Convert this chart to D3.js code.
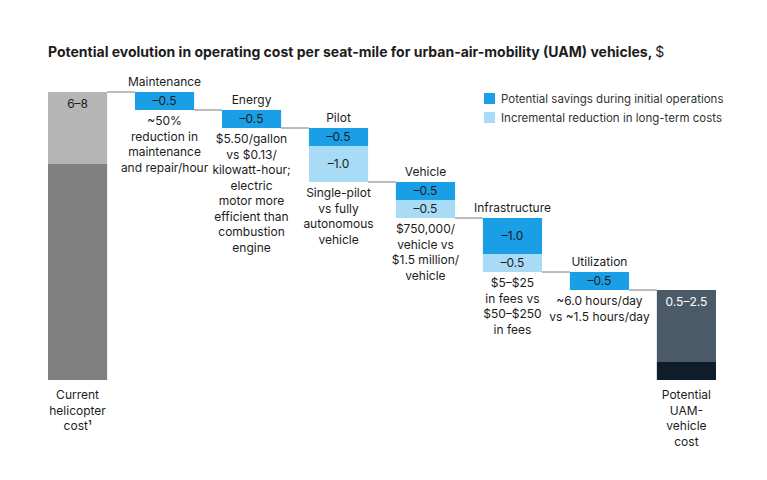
<!DOCTYPE html>
<html>
<head>
<meta charset="utf-8">
<script src="https://cdn.jsdelivr.net/npm/d3@7"></script>
<style>
  body { margin: 0; background: #fff; font-family: Inter, "Noto Sans", sans-serif; }
  text { fill: #1c1c1c; }
</style>
</head>
<body>
<svg id="chart" width="767" height="480"></svg>
<script>
// Data
const steps = ["Maintenance", "Energy", "Pilot", "Vehicle", "Infrastructure", "Utilization"];
const initialSavings = [0.5, 0.5, 0.5, 0.5, 1.0, 0.5];
const longTermSavings = [0, 0, 1.0, 0.5, 0.5, 0];
const startRange = [6, 8];
const endRange = [0.5, 2.5];
const notes = [
  ["~50%", "reduction in", "maintenance", "and repair/hour"],
  ["$5.50/gallon", "vs $0.13/", "kilowatt-hour;", "electric", "motor more", "efficient than", "combustion", "engine"],
  ["Single-pilot", "vs fully", "autonomous", "vehicle"],
  ["$750,000/", "vehicle vs", "$1.5 million/", "vehicle"],
  ["$5–$25", "in fees vs", "$50–$250", "in fees"],
  ["~6.0 hours/day", "vs ~1.5 hours/day"]
];

const svg = d3.select("#chart");
const blue = "#1a9fe6", lightBlue = "#a8dcf6";

const x = d3.scaleBand()
  .domain(["start", ...steps, "end"])
  .range([48, 716])
  .paddingInner(0.32).paddingOuter(0);
const y = d3.scaleLinear().domain([0, 8]).range([380, 92]);
const w = x.bandwidth();

svg.append("text").attr("x", 48).attr("y", 57)
  .attr("font-size", 14).attr("font-weight", 700)
  .text("Potential evolution in operating cost per seat-mile for urban-air-mobility (UAM) vehicles, ")
  .append("tspan").attr("font-weight", 400).text("$");

// start bar
svg.append("rect").attr("x", x("start")).attr("width", w)
  .attr("y", y(startRange[0])).attr("height", y(0) - y(startRange[0])).attr("fill", "#808080");
svg.append("rect").attr("x", x("start")).attr("width", w)
  .attr("y", y(startRange[1])).attr("height", y(startRange[0]) - y(startRange[1])).attr("fill", "#b5b5b5");
svg.append("text").attr("x", x("start") + w / 2).attr("y", y(startRange[1]) + 16)
  .attr("text-anchor", "middle").attr("font-size", 12).text("6–8");

// steps
let level = startRange[1];
let prevRight = x("start") + w;
steps.forEach((s, i) => {
  const bx = x(s);
  svg.append("line").attr("x1", prevRight).attr("x2", bx)
    .attr("y1", y(level)).attr("y2", y(level)).attr("stroke", "#555").attr("stroke-width", 0.8);
  svg.append("text").attr("x", bx + w / 2).attr("y", y(level) - 6)
    .attr("text-anchor", "middle").attr("font-size", 12).text(s);
  const a = initialSavings[i], b = longTermSavings[i];
  svg.append("rect").attr("x", bx).attr("width", w)
    .attr("y", y(level)).attr("height", y(level - a) - y(level)).attr("fill", blue);
  svg.append("text").attr("x", bx + w / 2).attr("y", (y(level) + y(level - a)) / 2 + 4)
    .attr("text-anchor", "middle").attr("font-size", 12).text("–" + a.toFixed(1));
  level -= a;
  if (b > 0) {
    svg.append("rect").attr("x", bx).attr("width", w)
      .attr("y", y(level)).attr("height", y(level - b) - y(level)).attr("fill", lightBlue);
    svg.append("text").attr("x", bx + w / 2).attr("y", (y(level) + y(level - b)) / 2 + 4)
      .attr("text-anchor", "middle").attr("font-size", 12).text("–" + b.toFixed(1));
    level -= b;
  }
  const t = svg.append("text").attr("x", bx + w / 2).attr("y", y(level) + 15)
    .attr("text-anchor", "middle").attr("font-size", 12);
  notes[i].forEach((ln, k) => t.append("tspan").attr("x", bx + w / 2).attr("dy", k ? 15.5 : 0).text(ln));
  prevRight = bx + w;
});

// end bar
svg.append("line").attr("x1", prevRight).attr("x2", x("end"))
  .attr("y1", y(level)).attr("y2", y(level)).attr("stroke", "#555").attr("stroke-width", 0.8);
svg.append("rect").attr("x", x("end")).attr("width", w)
  .attr("y", y(endRange[1])).attr("height", y(endRange[0]) - y(endRange[1])).attr("fill", "#4b5a68");
svg.append("rect").attr("x", x("end")).attr("width", w)
  .attr("y", y(endRange[0])).attr("height", y(0) - y(endRange[0])).attr("fill", "#0f1c2a");
svg.append("text").attr("x", x("end") + w / 2).attr("y", y(endRange[1]) + 16)
  .attr("text-anchor", "middle").attr("font-size", 12).style("fill", "#fff").text("0.5–2.5");

// bottom labels
[["start", ["Current", "helicopter", "cost¹"]], ["end", ["Potential", "UAM-", "vehicle", "cost"]]].forEach(([k, lines]) => {
  const t = svg.append("text").attr("x", x(k) + w / 2).attr("y", 399)
    .attr("text-anchor", "middle").attr("font-size", 12);
  lines.forEach((ln, j) => t.append("tspan").attr("x", x(k) + w / 2).attr("dy", j ? 15.5 : 0).text(ln));
});

// legend
[[blue, "Potential savings during initial operations"], [lightBlue, "Incremental reduction in long-term costs"]]
  .forEach(([c, l], i) => {
    svg.append("rect").attr("x", 484).attr("y", 93 + i * 19).attr("width", 11).attr("height", 11).attr("fill", c);
    svg.append("text").attr("x", 501).attr("y", 103 + i * 19).attr("font-size", 11.5).style("fill", "#333").text(l);
  });
</script>
</body>
</html>
